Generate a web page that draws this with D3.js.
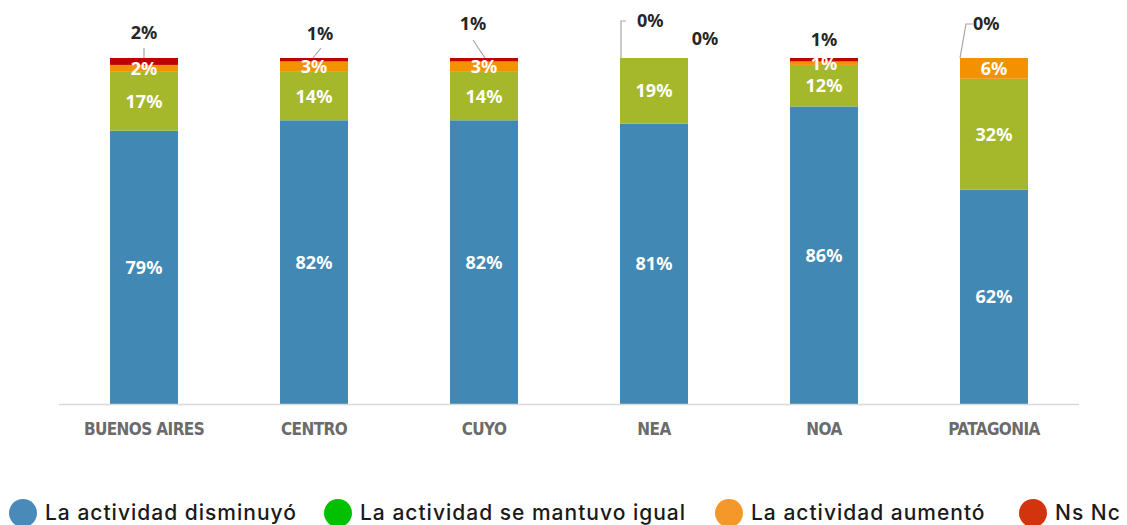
<!DOCTYPE html>
<html><head><meta charset="utf-8">
<script src="https://cdn.jsdelivr.net/npm/d3@7"></script>
<style>
html,body{margin:0;padding:0;background:#fff;}
svg{display:block;}
</style></head>
<body>
<svg id="chart" width="1127" height="525"></svg>
<script>
const categories = ["BUENOS AIRES","CENTRO","CUYO","NEA","NOA","PATAGONIA"];
const disminuyo = [79,82,82,81,86,62];
const mantuvo   = [17,14,14,19,12,32];
const aumento   = [2,3,3,0,1,6];
const nsnc      = [2,1,1,0,1,0];
const seriesNames = ["La actividad disminuyó","La actividad se mantuvo igual","La actividad aumentó","Ns Nc"];
const barColors = ["#4189b4","#a5b82b","#f39200","#c00000"];
const legendColors = ["#4a8ab8","#00c000","#f5982a","#d2350e"];

const svg = d3.select("#chart");
const x = d3.scaleBand().domain(categories).range([59,1079]).paddingInner(0.6).paddingOuter(0.3);
const y = d3.scaleLinear().domain([0,100]).range([404,58]);

const rows = categories.map((c,i)=>({cat:c, s0:disminuyo[i], s1:mantuvo[i], s2:aumento[i], s3:nsnc[i]}));
const keys = ["s0","s1","s2","s3"];
const stacked = d3.stack().keys(keys)(rows);

// bars
stacked.forEach((layer,li)=>{
  svg.append("g").selectAll("rect").data(layer).join("rect")
    .attr("x", d=>x(d.data.cat))
    .attr("width", x.bandwidth())
    .attr("y", d=>y(d[1]))
    .attr("height", d=>Math.max(0,y(d[0])-y(d[1])))
    .attr("fill", barColors[li]);
});

// axis line
svg.append("line").attr("x1",59).attr("x2",1079).attr("y1",404.5).attr("y2",404.5)
  .attr("stroke","#d9d9d9").attr("stroke-width",1.5);

// category labels
svg.append("g").selectAll("text").data(categories).join("text")
  .attr("x", d=>x(d)+x.bandwidth()/2)
  .attr("y", 435)
  .attr("text-anchor","middle")
  .attr("font-family","'DejaVu Sans Condensed','DejaVu Sans',sans-serif")
  .attr("font-stretch","condensed")
  .attr("font-weight","bold")
  .attr("font-size",17)
  .attr("letter-spacing",-0.6)
  .attr("fill","#6b6b6b")
  .text(d=>d);

// inside labels (white)
const inFont = "'Noto Sans','DejaVu Sans',sans-serif";
[0,1,2].forEach(li=>{
  const layer = stacked[li];
  svg.append("g").selectAll("text").data(layer.filter(d=>(d[1]-d[0])>0)).join("text")
    .attr("x", d=>x(d.data.cat)+x.bandwidth()/2)
    .attr("y", d=>(y(d[0])+y(d[1]))/2)
    .attr("dy","0.36em")
    .attr("text-anchor","middle")
    .attr("font-family",inFont)
    .attr("font-weight","bold")
    .attr("font-size",18)
    .attr("fill","#ffffff")
    .text(d=>(d[1]-d[0])+"%");
});

// outside labels: Ns Nc (and NEA's 0% aumento) with leader lines
const outside = [
  {i:0, val:nsnc[0], lx:0,  ly:33, path:[[0,58],[0,48]]},
  {i:1, val:nsnc[1], lx:6,  ly:34, path:[[-1,58],[7,48]]},
  {i:2, val:nsnc[2], lx:-11,ly:24, path:[[1,58],[-11,40]]},
  {i:3, val:aumento[3], lx:-9, ly:21, path:[[-33,58],[-33,21],[-28,21]], anchor:"start"},
  {i:3, val:nsnc[3], lx:51, ly:39, path:null},
  {i:4, val:nsnc[4], lx:0,  ly:40, path:null},
  {i:5, val:nsnc[5], lx:-13, ly:24, path:[[-34,58],[-28,24],[-21,24]], anchor:"start"}
];
outside.forEach(o=>{
  const cx = x(categories[o.i]) + x.bandwidth()/2;
  if(o.path){
    svg.append("path")
      .attr("d", d3.line()(o.path.map(p=>[cx+p[0], p[1]])))
      .attr("fill","none").attr("stroke","#a6a6a6").attr("stroke-width",1.2);
  }
  svg.append("text")
    .attr("x", cx + (o.anchor==="start" ? o.lx-8 : o.lx))
    .attr("y", o.ly)
    .attr("dy","0.36em")
    .attr("text-anchor", o.anchor==="start" ? "start" : "middle")
    .attr("font-family",inFont)
    .attr("font-weight","bold")
    .attr("font-size",18)
    .attr("fill","#262626")
    .text(o.val+"%");
});

// legend
const legX = [23, 338, 729, 1033];
const lg = svg.append("g");
seriesNames.forEach((n,i)=>{
  lg.append("circle").attr("cx",legX[i]).attr("cy",513).attr("r",14).attr("fill",legendColors[i]);
  lg.append("text").attr("x",legX[i]+22).attr("y",520)
    .attr("font-family","Inter,'Open Sans',sans-serif")
    .attr("font-size",21)
    .attr("font-weight",500)
    .attr("letter-spacing",1.0)
    .attr("fill","#1a1a1a")
    .text(n);
});
</script>
</body></html>
